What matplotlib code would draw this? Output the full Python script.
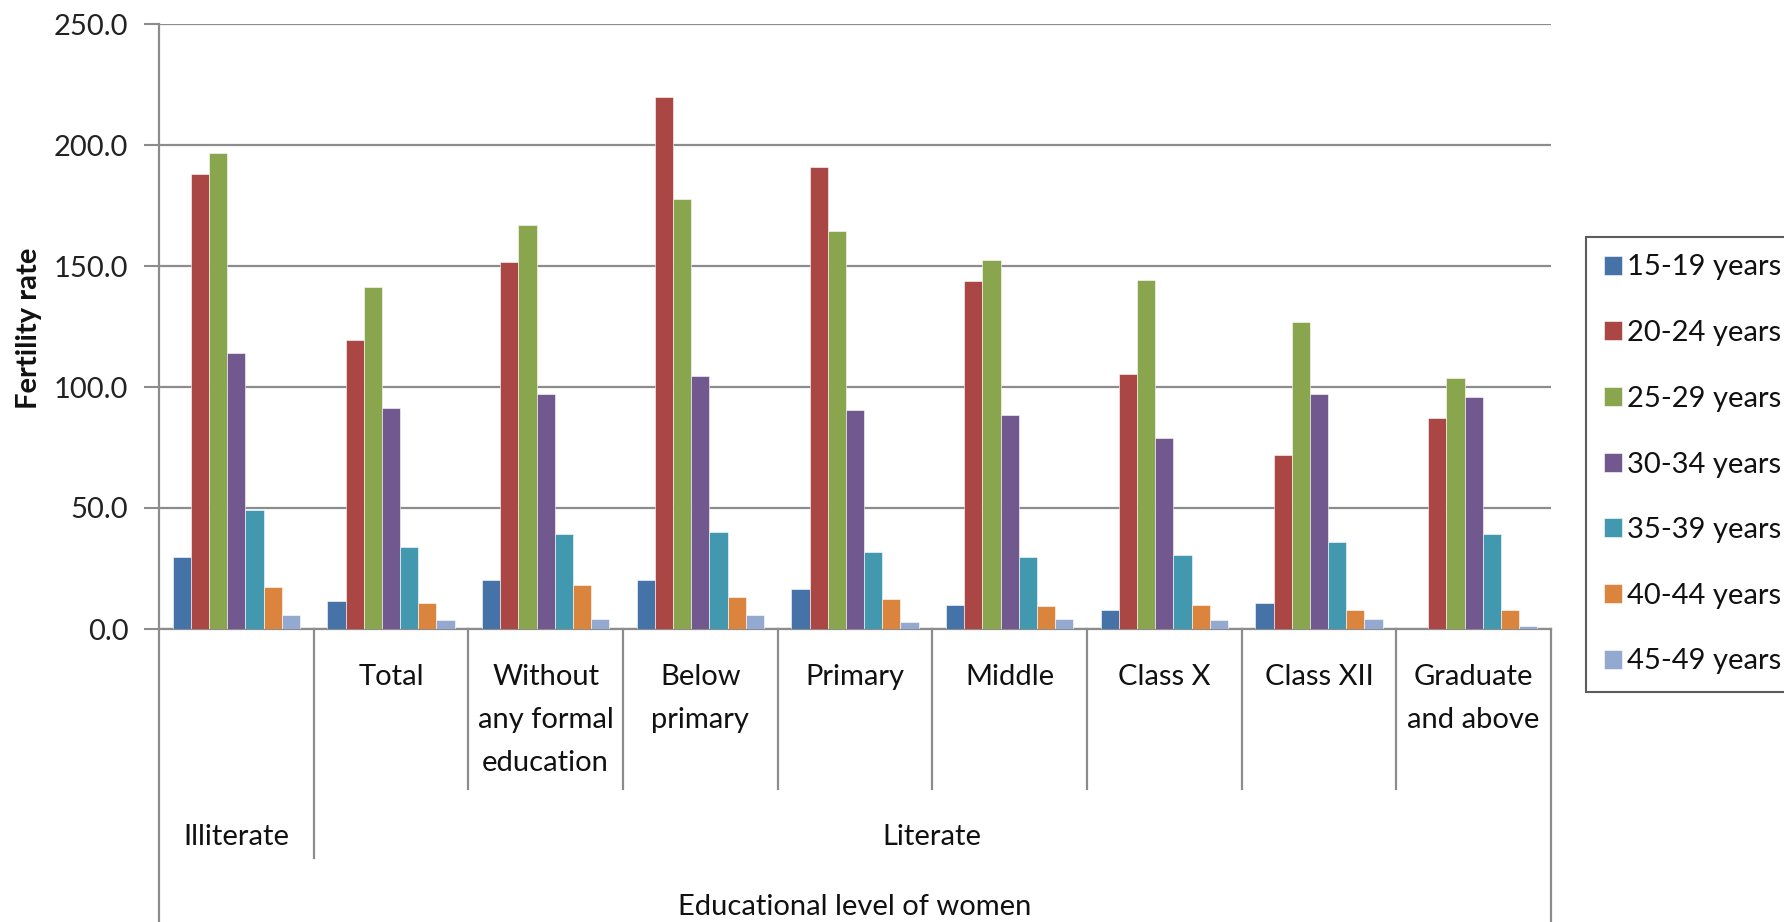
import matplotlib

matplotlib.use("Agg")
import matplotlib.pyplot as plt
import matplotlib.transforms as mtransforms
import numpy as np

plt.rcParams["font.family"] = ["Lato", "DejaVu Sans"]

# sub-categories along the x axis (first one belongs to "Illiterate", which has none)
CATEGORIES = [
    "",
    "Total",
    "Without\nany formal\neducation",
    "Below\nprimary",
    "Primary",
    "Middle",
    "Class X",
    "Class XII",
    "Graduate\nand above",
]
GROUP_LABELS = ["Illiterate", "Literate"]
AGE_GROUPS = [
    "15-19 years",
    "20-24 years",
    "25-29 years",
    "30-34 years",
    "35-39 years",
    "40-44 years",
    "45-49 years",
]

rate_15_19 = [29.7, 11.4, 20.2, 20.2, 16.6, 10.1, 7.9, 10.8, 0.0]
rate_20_24 = [188.0, 119.6, 151.7, 219.9, 190.8, 143.7, 105.2, 71.8, 87.1]
rate_25_29 = [196.6, 141.5, 167.0, 177.7, 164.6, 152.4, 144.4, 126.9, 103.7]
rate_30_34 = [114.0, 91.5, 97.3, 104.6, 90.6, 88.6, 79.0, 97.2, 95.8]
rate_35_39 = [49.2, 34.0, 39.1, 40.0, 31.9, 29.7, 30.5, 36.1, 39.1]
rate_40_44 = [17.4, 10.7, 18.0, 13.1, 12.3, 9.4, 10.1, 7.9, 7.9]
rate_45_49 = [5.8, 3.6, 4.3, 5.8, 2.8, 4.3, 3.6, 4.3, 1.3]

SERIES = [rate_15_19, rate_20_24, rate_25_29, rate_30_34, rate_35_39, rate_40_44, rate_45_49]
COLORS = ["#4572A7", "#AA4643", "#89A54E", "#71588F", "#4198AF", "#DB843D", "#93A9CF"]

W, H = 1784, 922
GRID = "#8c8c8c"
FS = 21


def fy(px):
    # figure-fraction from a pixel row counted from the top
    return 1 - px / H


fig = plt.figure(figsize=(W / 100, H / 100), dpi=100)
ax = fig.add_axes([159 / W, fy(629), (1551 - 159) / W, (629 - 24) / H])

x = np.arange(len(CATEGORIES))
width = 1 / 8.5
for i, (values, color, label) in enumerate(zip(SERIES, COLORS, AGE_GROUPS)):
    ax.bar(
        x + (i - 3) * width,
        values,
        width=width,
        color=color,
        label=label,
        edgecolor="white",
        linewidth=0.4,
        zorder=3,
    )

ax.set_xlim(-0.5, len(CATEGORIES) - 0.5)
ax.set_ylim(0, 250)
ax.set_yticks(np.arange(0, 251, 50))
ax.set_yticklabels([f"{v:.1f}" for v in np.arange(0, 251, 50)], fontsize=FS, color="#222222")
ax.tick_params(axis="y", length=11, width=1.5, color=GRID, pad=11)
ax.set_xticks([])
ax.grid(axis="y", color=GRID, linewidth=1.6, zorder=0)
ax.set_axisbelow(True)
for side in ("top", "right"):
    ax.spines[side].set_visible(False)
for side in ("left", "bottom"):
    ax.spines[side].set_color(GRID)
    ax.spines[side].set_linewidth(1.6)

fig.text(29 / W, fy(328), "Fertility rate", rotation=90, ha="center", va="center",
         fontsize=FS, fontweight="bold", color="#111111")

# multi-level category axis drawn below the plot
trans = mtransforms.blended_transform_factory(ax.transData, fig.transFigure)
n = len(CATEGORIES)
for b in np.arange(-0.5, n, 1.0):
    if b in (-0.5, n - 0.5):
        bottom = 922
    elif b == 0.5:
        bottom = 858
    else:
        bottom = 789
    ax.plot([b, b], [fy(629), fy(bottom)], transform=trans, color=GRID,
            linewidth=1.6, clip_on=False)

for xi, name in zip(x, CATEGORIES):
    if name:
        fig.text(xi, fy(664), name, transform=trans, ha="center", va="top",
                 fontsize=FS, color="#111111", linespacing=1.82)

fig.text(0, fy(837), GROUP_LABELS[0], transform=trans, ha="center", va="center",
         fontsize=FS, color="#111111")
fig.text((0.5 + n - 0.5) / 2, fy(837), GROUP_LABELS[1], transform=trans, ha="center",
         va="center", fontsize=FS, color="#111111")
fig.text((n - 1) / 2, fy(907), "Educational level of women", transform=trans,
         ha="center", va="center", fontsize=FS, color="#111111")

leg = fig.legend(
    loc="upper left",
    bbox_to_anchor=(1586 / W, fy(237)),
    frameon=True,
    fancybox=False,
    fontsize=FS,
    handlelength=0.62,
    handleheight=0.62,
    handletextpad=0.2,
    labelspacing=1.36,
    borderpad=0.6,
    borderaxespad=0,
)
leg.get_frame().set_edgecolor("#333333")
leg.get_frame().set_linewidth(1.5)
for t in leg.get_texts():
    t.set_color("#111111")

fig.savefig("out.png", dpi=100)
